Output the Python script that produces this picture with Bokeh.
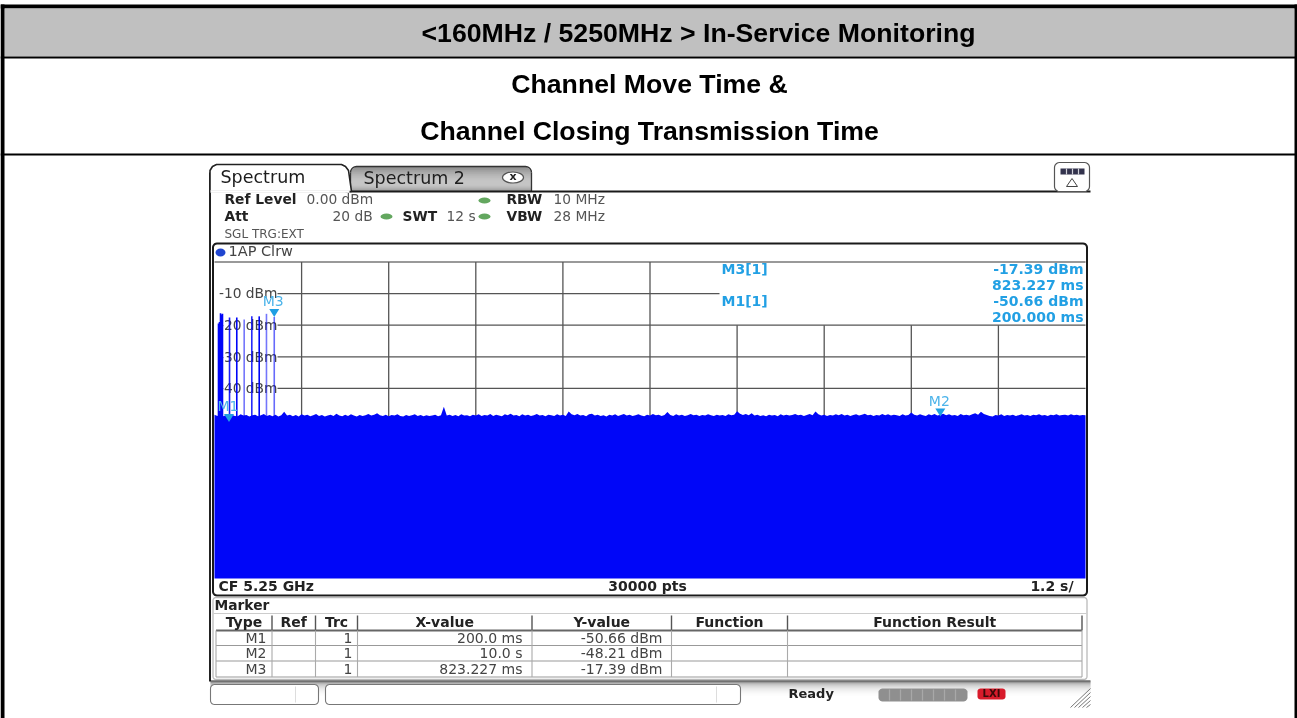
import numpy as np
from bokeh.plotting import figure
from bokeh.models import Range1d
from bokeh.core.properties import value
from bokeh.embed import file_html
from bokeh.resources import INLINE

W, H = 1297, 718

# ---------- chart values ----------
sweep_s = 12.0
ref_dbm = 0.0
grid_times = [1.2, 2.4, 3.6, 4.8, 6.0, 7.2, 8.4, 9.6, 10.8]
grid_levels = [-10, -20, -30, -40]
level_labels = ["-10 dBm", "-20 dBm", "-30 dBm", "-40 dBm"]

# upper edge of the noise floor, one reading every 0.04 s (dBm)
noise_dbm = [
 -48.3,-48.7,-48.2,-48.8,-48.4,-48.9,-48.3,-48.7,-48.8,-48.2,-48.6,-48.4,-48.9,-48.5,-48.3,-48.8,-48.5,-48.1,-48.7,-48.4,
 -48.8,-48.3,-48.9,-48.5,-47.4,-48.6,-48.3,-48.8,-48.4,-48.9,-48.2,-48.6,-48.3,-48.8,-48.5,-48.1,-48.7,-48.4,-48.9,-48.6,
 -48.3,-48.7,-48.0,-48.6,-48.8,-48.3,-48.7,-48.2,-48.6,-48.9,-48.4,-48.7,-48.5,-48.1,-48.6,-48.3,-47.9,-48.5,-48.7,-48.3,
 -48.8,-48.4,-48.6,-48.2,-48.7,-48.9,-48.4,-48.7,-48.5,-48.2,-48.7,-48.4,-48.8,-48.5,-48.7,-48.6,-48.3,-48.8,-48.5,-45.8,
 -48.6,-48.3,-48.7,-48.4,-48.8,-48.2,-48.6,-48.5,-48.8,-48.3,-48.6,-48.2,-48.7,-48.4,-48.6,-48.1,-48.7,-48.3,-48.6,-48.8,
 -48.2,-48.5,-48.0,-48.6,-48.4,-48.8,-48.2,-48.6,-48.3,-48.7,-48.5,-48.1,-48.6,-48.4,-48.8,-48.3,-48.5,-48.7,-48.2,-48.6,
 -48.3,-48.7,-47.3,-48.2,-48.5,-48.1,-48.6,-48.4,-48.8,-48.2,-48.0,-48.6,-48.3,-48.7,-48.5,-48.9,-48.3,-48.6,-48.2,-48.7,
 -48.4,-48.1,-48.6,-48.3,-48.7,-48.5,-48.2,-48.6,-48.8,-48.3,-48.6,-48.1,-48.5,-48.3,-48.7,-48.4,-47.5,-48.4,-48.7,-48.2,
 -48.6,-48.3,-48.7,-48.5,-48.1,-48.5,-48.3,-48.7,-48.4,-48.6,-48.2,-48.5,-48.7,-48.3,-48.6,-48.4,-48.7,-48.2,-48.5,-48.3,
 -47.2,-48.0,-48.4,-48.1,-48.5,-47.9,-48.6,-48.3,-48.7,-48.5,-48.8,-48.3,-48.6,-48.4,-48.8,-48.2,-48.6,-48.3,-48.6,-48.4,
 -48.1,-48.5,-48.3,-48.7,-48.4,-48.1,-48.5,-47.3,-48.2,-48.6,-48.3,-48.7,-48.4,-48.6,-48.2,-48.5,-48.1,-48.6,-48.3,-48.7,
 -48.4,-48.2,-48.6,-48.3,-48.0,-48.5,-48.3,-48.7,-48.4,-48.6,-48.1,-48.5,-48.2,-48.6,-48.3,-48.5,-48.7,-48.2,-48.6,-48.4,
 -47.6,-48.3,-48.6,-48.2,-48.5,-48.7,-48.21,-48.5,-48.1,-48.6,-48.3,-48.0,-48.5,-48.2,-48.6,-48.4,-48.7,-48.1,-48.5,-48.3,
 -48.6,-48.2,-47.9,-48.3,-47.4,-48.1,-48.4,-48.7,-48.9,-48.4,-48.6,-48.2,-48.7,-48.4,-48.6,-48.3,-48.7,-48.5,-48.2,-48.6,
 -48.4,-48.7,-48.3,-48.5,-48.2,-48.6,-48.4,-48.7,-48.3,-48.5,-48.2,-48.6,-48.4,-48.3,-48.6,-48.2,-48.5,-48.3,-48.6,-48.4,-48.5,
]
pulse_times = [0.055, 0.069, 0.083, 0.096, 0.110, 0.207, 0.307, 0.409, 0.514, 0.616, 0.716, 0.823227]
pulse_dbm   = [-19.5, -19.0, -16.2, -16.6, -16.4, -17.6, -17.6, -18.2, -17.2, -17.2, -16.4, -17.39]
pulse_alpha = [1, 1, 1, 1, 1, .9, 1, .55, .85, 1, .55, .6]

marker_names = ["M1", "M2", "M3"]
marker_times = [0.2, 10.0, 0.823227]
marker_dbm = [-50.66, -48.21, -17.39]

table_head = ["Type", "Ref", "Trc", "X-value", "Y-value", "Function", "Function Result"]
table_trc = ["1", "1", "1"]
table_x = ["200.0 ms", "10.0 s", "823.227 ms"]
table_y = ["-50.66 dBm", "-48.21 dBm", "-17.39 dBm"]

# ---------- page geometry ----------
PX0, PX1 = 214.0, 1085.0      # spectrum frame: time axis
PY0, PYM = 261.5, 3.16        # y pixel of 0 dBm, pixels per dB
x_per_s = (PX1 - PX0) / sweep_s
t_start, t_end = -PX0 / x_per_s, (W - PX0) / x_per_s
d_top, d_bot = ref_dbm + PY0 / PYM, ref_dbm - (H - PY0) / PYM
FLOOR_DBM = ref_dbm - (578 - PY0) / PYM

p = figure(width=W, height=H, output_backend="svg", toolbar_location=None,
           x_range=Range1d(0, W), y_range=Range1d(H, 0),
           x_axis_type=None, y_axis_type=None, min_border=0, outline_line_color=None,
           background_fill_color="white", border_fill_color="white",
           styles={"position": "fixed", "left": "0px", "top": "0px"})
p.grid.visible = False
p.extra_x_ranges = {"t": Range1d(t_start, t_end)}
p.extra_y_ranges = {"d": Range1d(d_bot, d_top)}
DATA = dict(x_range_name="t", y_range_name="d")


def rpath(x0, y0, x1, y1, r):
    a = np.linspace(0, np.pi / 2, 6)
    xs = np.r_[x0 + r - r*np.cos(a), x1 - r + r*np.sin(a), x1 - r + r*np.cos(a), x0 + r - r*np.sin(a)]
    ys = np.r_[y0 + r - r*np.sin(a), y0 + r - r*np.cos(a), y1 - r + r*np.sin(a), y1 - r + r*np.cos(a)]
    return xs, ys


def rbox(x0, y0, x1, y1, r, fill="white", line="black", lw=1.0):
    xs, ys = rpath(x0, y0, x1, y1, r)
    p.patch(xs, ys, fill_color=fill, line_color=line, line_width=lw)


def seg(x0, y0, x1, y1, color="black", lw=1.0, alpha=1.0):
    p.segment([x0], [y0], [x1], [y1], line_color=color, line_width=lw, line_alpha=alpha)


def rect(x0, y0, x1, y1, color):
    p.quad(left=[x0], right=[x1], top=[y0], bottom=[y1], fill_color=color, line_color=None)


def txt(x, y, s, size=12, color="#333333", bold=False, align="left", font="DejaVu Sans"):
    p.text([x], [y - 0.8], text=[s], text_font=value(font), text_font_size=f"{size}px",
           text_color=color, text_font_style="bold" if bold else "normal",
           text_align=align, text_baseline="middle")


# ---------- document table ----------
rect(0, 4, W, 8, "black")
rect(4, 8, 1294, 56, "#c0c0c0")
rect(0, 56, W, 58, "black")
rect(0, 153, W, 155, "black")
rect(0, 4, 4, H, "black")
rect(1294, 4, W, H, "black")
AR = "Liberation Sans"
txt(698, 33, "<160MHz / 5250MHz > In-Service Monitoring", 26.67, "#000000", True, "center", AR)
txt(649, 84, "Channel Move Time &", 26.67, "#000000", True, "center", AR)
txt(649, 131, "Channel Closing Transmission Time", 26.67, "#000000", True, "center", AR)

# ---------- instrument window ----------
# spectrum 2 tab
tab_shades = ["#6a6a6a", "#777777", "#858585", "#929292", "#9d9d9d", "#a6a6a6", "#adadad", "#b2b2b2"]
for i in range(25):
    inset = max(0, 4 - i)
    rect(350 + inset, 166 + i, 531 - inset, 167 + i, tab_shades[min(i // 2, 7)] if i < 18 else tab_shades[7 - (i - 18)])
xs, ys = rpath(350, 166, 531, 200, 6)
p.line(xs[:12], ys[:12], line_color="#333333", line_width=1.3)
seg(531, 172, 531, 191, "#333333", 1.3)
seg(350, 172, 350, 191, "#333333", 1.3)
p.ellipse([512.5], [177], width=21, height=11, fill_color="white", line_color="#555555", line_width=1.2)
txt(512.5, 177, "x", 11, "#222222", True, "center")
txt(363, 178.5, "Spectrum 2", 17.5, "#1e1e1e", False)

# spectrum tab + window outline
seg(345, 191, 1090, 191, "#1a1a1a", 2)
seg(209.5, 172, 209.5, 681, "#222222", 2)
tab_x = [209.5, 209.5, 212, 216, 341, 345, 348, 351]
tab_y = [191, 170, 166, 164, 164, 166, 170, 191]
p.patch(tab_x, tab_y, fill_color="white", line_color="#222222", line_width=1.6)
seg(210, 191, 349, 191, "white", 2.5)
txt(220, 177.5, "Spectrum", 17.5, "#1c1c1c")

# top-right icon
rbox(1054, 162, 1089, 191, 5, "white", "#555555", 1.2)
rect(1060, 168, 1084, 174, "#33334d")
for ix in [1066, 1072, 1078]:
    seg(ix, 168, ix, 174, "#d0d0d8", 1.2)
p.patch([1066, 1077, 1071.5], [186, 186, 178], fill_color="white", line_color="#444444", line_width=1)

# settings
LED = "#63a75f"
SZ = 13.8
for lx, ly in [(484, 200), (386, 216), (484, 216)]:
    p.ellipse([lx], [ly], width=12, height=6, fill_color=LED, line_color=None)
txt(224, 199.5, "Ref Level", SZ, "#222222", True)
txt(306, 199.5, "0.00 dBm", SZ, "#555555")
txt(506, 199.5, "RBW", SZ, "#222222", True)
txt(553, 199.5, "10 MHz", SZ, "#555555")
txt(224, 216.5, "Att", SZ, "#222222", True)
txt(332, 216.5, "20 dB", SZ, "#555555")
txt(402, 216.5, "SWT", SZ, "#222222", True)
txt(446, 216.5, "12 s", SZ, "#555555")
txt(506, 216.5, "VBW", SZ, "#222222", True)
txt(553, 216.5, "28 MHz", SZ, "#555555")
txt(224, 234.5, "SGL TRG:EXT", 12, "#555555")

# spectrum panel
rbox(212.5, 243, 1086.5, 595, 4, "white", "#1a1a1a", 2)
p.ellipse([220], [252], width=10, height=8, fill_color="#1f45d0", line_color=None)
txt(228, 251.5, "1AP Clrw", 14.5, "#444444")
seg(214, 261.5, 1085, 261.5, "#777777", 1.3)

# grid, through the data scales
GRID = "#555555"
for lv, lab in zip(grid_levels, level_labels):
    x_end = 719 if lv == -10 else 1085
    t0 = (277 - PX0) / x_per_s
    t1 = (x_end - PX0) / x_per_s
    p.segment([t0], [lv], [t1], [lv], line_color=GRID, line_width=1.3, **DATA)
    txt(277, PY0 - lv * PYM + 0.5, lab, SZ, "#444444", False, "right")
for t in grid_times:
    top = ref_dbm if t <= 6.0 else -20
    p.segment([t], [top], [t], [-50], line_color=GRID, line_width=1.3, **DATA)

# trace
BLUE = "#0006f8"
noise_t = np.arange(len(noise_dbm)) * sweep_s / (len(noise_dbm) - 1)
p.varea(x=noise_t, y1=noise_dbm, y2=[FLOOR_DBM] * len(noise_dbm), fill_color=BLUE, **DATA)
p.segment(pulse_times, pulse_dbm, pulse_times, [-50] * len(pulse_times),
          line_color=BLUE, line_width=1.6, line_alpha=pulse_alpha, **DATA)

# markers
MK = "#1f9fe3"
LBL = "#4db4ea"
for name, t, d in zip(marker_names, marker_times, marker_dbm):
    tip_d = d if name != "M2" else -48.9
    size_d = 8 / PYM
    half = 5 / x_per_s
    p.patch([t - half, t + half, t], [tip_d + size_d, tip_d + size_d, tip_d], fill_color=MK, line_color=None, **DATA)
    px = PX0 + t * x_per_s
    py = PY0 - (tip_d + size_d) * PYM
    txt(px - 1, py - 7, name, 14, LBL, False, "center")

# marker read-out
INFO = "#22a0e4"
B = 14
txt(721, 269.5, "M3[1]", B, INFO, True)
txt(721, 301.5, "M1[1]", B, INFO, True)
txt(1083, 269.5, "-17.39 dBm", B, INFO, True, "right")
txt(1083, 285, "823.227 ms", B, INFO, True, "right")
txt(1083, 301.5, "-50.66 dBm", B, INFO, True, "right")
txt(1083, 317, "200.000 ms", B, INFO, True, "right")

# footer of the panel
txt(218, 586.5, "CF 5.25 GHz", B, "#222222", True)
txt(647, 586.5, "30000 pts", B, "#222222", True, "center")
txt(1073, 586.5, "1.2 s/", B, "#222222", True, "right")

# ---------- marker table ----------
rbox(212.5, 597, 1086.5, 679, 3, "white", "#bbbbbb", 1.3)
txt(214, 605, "Marker", SZ, "#222222", True)
seg(213, 613, 1086, 613, "#cccccc", 1)
col_x = [215.5, 271.5, 315, 357, 531.5, 671, 787, 1081.5]
row_y = [630, 645, 660.5, 676.5]
for cx in col_x[1:]:
    seg(cx, 615, cx, 630, "#555555", 1.4)
seg(215.5, 630, 1081.5, 630, "#666666", 1.8)
for ry in row_y[1:]:
    seg(215.5, ry, 1081.5, ry, "#999999", 1.2)
for cx in col_x:
    seg(cx, 630, cx, 676.5, "#aaaaaa", 1.1)
for i, h in enumerate(table_head):
    txt((col_x[i] + col_x[i + 1]) / 2, 622, h, B, "#222222", True, "center")
rows = [638, 653.5, 669]
for i in range(3):
    txt(266, rows[i], marker_names[i], 14, "#444444", False, "right")
    txt(352, rows[i], table_trc[i], 14, "#444444", False, "right")
    txt(522, rows[i], table_x[i], 14, "#444444", False, "right")
    txt(662, rows[i], table_y[i], 14, "#444444", False, "right")

# ---------- status bar ----------
bar_shades = ["#222222", "#555555", "#8c8c8c", "#a8a8a8", "#b8b8b8", "#c6c6c6", "#d0d0d0", "#dadada",
              "#e2e2e2", "#e8e8e8", "#eeeeee", "#f2f2f2", "#f6f6f6", "#f9f9f9", "#fcfcfc"]
for i, c in enumerate(bar_shades):
    rect(210, 680 + i, 1090, 681 + i, c)
rbox(210, 684, 318, 704, 4, "white", "#777777", 1.1)
rbox(325, 684, 740, 704, 4, "white", "#777777", 1.1)
seg(295, 686, 295, 702, "#dddddd", 1)
seg(716, 686, 716, 702, "#dddddd", 1)
txt(788, 693.5, "Ready", 13, "#222222", True)
rbox(878, 688, 967, 701, 4, "#8f8f8f", None, 0)
for sx in [889, 900, 911, 922, 933, 944, 955]:
    seg(sx, 689, sx, 700, "#a8a8a8", 1.2)
rbox(977, 688, 1005, 699, 3, "#d81b2b", None, 0)
txt(991, 694, "LXI", 10, "#3a0a0a", True, "center")
for k in range(5):
    seg(1070 + k * 4, 707, 1090, 688 + k * 4, "#777777", 1)

open("out.html", "w").write(file_html(p, INLINE))
